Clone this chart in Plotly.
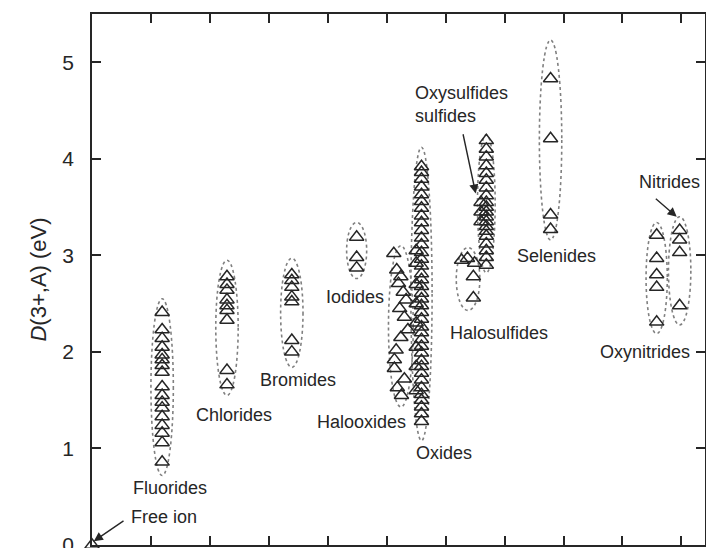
import plotly.graph_objects as go

# ---------------- data ----------------
free_ion_x = [0.0]
free_ion_y = [0.0]

fluorides_x = 1.19
fluorides_y = [2.41, 2.23, 2.14, 2.05, 1.97, 1.92, 1.86, 1.79, 1.64, 1.55, 1.48, 1.42,
               1.33, 1.24, 1.16, 1.06, 0.86]

chlorides_x = 2.29
chlorides_y = [2.78, 2.70, 2.64, 2.54, 2.48, 2.43, 2.33, 1.81, 1.66]

bromides_x = 3.39
bromides_y = [2.80, 2.74, 2.67, 2.57, 2.52, 2.12, 2.00]

iodides_x = 4.49
iodides_y = [3.19, 2.98, 2.87]

halooxides_x = [5.12, 5.17, 5.24, 5.2, 5.28, 5.33, 5.22, 5.3, 5.36, 5.24, 5.16,
                5.13, 5.13, 5.18, 5.25, 5.3]
halooxides_y = [3.02, 2.85, 2.78, 2.71, 2.62, 2.54, 2.45, 2.36, 2.23, 2.15, 2.02,
                1.92, 1.83, 1.63, 1.55, 1.72]

oxides_x = 5.59
oxides_y = [3.92, 3.86, 3.79, 3.71, 3.63, 3.56, 3.49, 3.41, 3.34, 3.26, 3.18, 3.11,
            3.03, 2.96, 2.89, 2.81, 2.75, 2.68, 2.61, 2.55, 2.48, 2.41, 2.34, 2.26,
            2.20, 2.13, 2.06, 1.99, 1.91, 1.85, 1.78, 1.71, 1.63, 1.56, 1.50, 1.43,
            1.36, 1.28]
oxides2_x = 5.5
oxides2_y = [3.05, 2.92, 2.7, 2.5, 2.3, 2.05, 1.85, 1.6]

halosulfides_x = [6.27, 6.37, 6.49, 6.47, 6.47]
halosulfides_y = [2.95, 2.97, 2.92, 2.78, 2.56]

oxysulfides_x = 6.69
oxysulfides_y = [4.19, 4.10, 4.02, 3.93, 3.85, 3.78, 3.70, 3.62, 3.55, 3.50, 3.45,
                 3.40, 3.35, 3.30, 3.25, 3.20, 3.12, 3.05, 2.98, 2.90]
oxysulfides2_x = 6.6
oxysulfides2_y = [3.55, 3.45, 3.35]

selenides_x = 7.78
selenides_y = [4.83, 4.21, 3.42, 3.27]

oxynitrides_x = 9.58
oxynitrides_y = [3.21, 2.97, 2.80, 2.67, 2.31]

nitrides_x = 9.97
nitrides_y = [3.26, 3.16, 3.03, 2.48]

labels = ["Fluorides", "Free ion", "Chlorides", "Bromides", "Iodides", "Halooxides",
          "Oxides", "Halosulfides", "Oxysulfides<br>sulfides", "Selenides",
          "Oxynitrides", "Nitrides"]

# ---------------- style ----------------
FONT = "Liberation Sans, Arial, Helvetica, sans-serif"
INK = "#262626"
marker = dict(symbol="triangle-up-open", size=12.5, color=INK, line=dict(width=1.5, color=INK))

fig = go.Figure()


def add_group(xs, ys, clip=True):
    if not isinstance(xs, list):
        xs = [xs] * len(ys)
    fig.add_trace(go.Scatter(x=xs, y=ys, mode="markers", marker=marker,
                             showlegend=False, cliponaxis=clip, hoverinfo="y"))


add_group(free_ion_x, free_ion_y, clip=False)
add_group(fluorides_x, fluorides_y)
add_group(chlorides_x, chlorides_y)
add_group(bromides_x, bromides_y)
add_group(iodides_x, iodides_y)
add_group(halooxides_x, halooxides_y)
add_group(oxides_x, oxides_y)
add_group(oxides2_x, oxides2_y)
add_group(halosulfides_x, halosulfides_y)
add_group(oxysulfides_x, oxysulfides_y)
add_group(oxysulfides2_x, oxysulfides2_y)
add_group(selenides_x, selenides_y)
add_group(oxynitrides_x, oxynitrides_y)
add_group(nitrides_x, nitrides_y)


# dotted ellipses around each group, derived from the group data
def ellipse(xs, ys, half_w=0.19, pad_lo=0.14, pad_hi=0.14):
    if not isinstance(xs, list):
        xs = [xs]
    xc = (min(xs) + max(xs)) / 2
    hw = half_w + (max(xs) - min(xs)) / 2
    fig.add_shape(type="circle", xref="x", yref="y",
                  x0=xc - hw, x1=xc + hw, y0=min(ys) - pad_lo, y1=max(ys) + pad_hi,
                  line=dict(color="#808080", width=1.6, dash="dot"), layer="below")


ellipse(fluorides_x, fluorides_y)
ellipse(chlorides_x, chlorides_y, pad_hi=0.17, pad_lo=0.11)
ellipse(bromides_x, bromides_y, pad_hi=0.17, pad_lo=0.16)
ellipse(iodides_x, iodides_y, half_w=0.17, pad_hi=0.15, pad_lo=0.11)
ellipse(halooxides_x, halooxides_y, half_w=0.09, pad_lo=0.12, pad_hi=0.08)
ellipse([oxides_x], oxides_y, half_w=0.18, pad_lo=0.2, pad_hi=0.2)
ellipse(halosulfides_x, halosulfides_y, half_w=0.09, pad_lo=0.13, pad_hi=0.11)
ellipse([oxysulfides_x], oxysulfides_y, half_w=0.15, pad_lo=0.08, pad_hi=0.06)
ellipse(selenides_x, selenides_y, pad_lo=0.11, pad_hi=0.4)
ellipse(oxynitrides_x, oxynitrides_y, half_w=0.18, pad_lo=0.12, pad_hi=0.13)
ellipse(nitrides_x, nitrides_y, pad_lo=0.2, pad_hi=0.14)

# text labels (positions in data coordinates)
label_pos = [
    (1.32, 0.59, "center"), (1.22, 0.29, "center"), (2.41, 1.35, "center"),
    (3.49, 1.71, "center"), (4.46, 2.57, "center"), (4.58, 1.27, "center"),
    (5.97, 0.95, "center"), (6.90, 2.20, "center"), (5.47, 4.56, "left"),
    (7.88, 2.99, "center"), (9.39, 2.00, "center"), (9.80, 3.76, "center"),
]
for text, (lx, ly, anchor) in zip(labels, label_pos):
    fig.add_annotation(x=lx, y=ly, text=text, showarrow=False, xanchor=anchor,
                       align="left", font=dict(family=FONT, size=18, color=INK),
                       bgcolor="rgba(255,255,255,0.85)", borderpad=0)

# arrows (tail -> head)
arrows = [((0.56, 0.26), (0.03, 0.04)), ((6.29, 4.27), (6.51, 3.64)), ((9.54, 3.60), (9.92, 3.40))]
for (tx, ty), (hx, hy) in arrows:
    fig.add_annotation(x=hx, y=hy, ax=tx, ay=ty, xref="x", yref="y", axref="x", ayref="y",
                       text="", showarrow=True, arrowhead=2, arrowsize=1.3, arrowwidth=1.4,
                       arrowcolor=INK)

axis_common = dict(showline=True, linecolor=INK, linewidth=1.6, mirror="ticks",
                   ticks="inside", ticklen=9, tickwidth=1.5, tickcolor=INK,
                   showgrid=False, zeroline=False, automargin=False)

fig.update_layout(
    width=706, height=548,
    margin=dict(l=92, r=1, t=14, b=3),
    paper_bgcolor="white", plot_bgcolor="white",
    font=dict(family=FONT, color=INK),
    xaxis=dict(range=[0, 10.4], dtick=1, tick0=0, showticklabels=False, **axis_common),
    yaxis=dict(range=[0, 5.5], dtick=1, tick0=0, tickfont=dict(size=21, family=FONT, color=INK),
               ticklabelstandoff=12, ticklabeloverflow="allow",
               title=dict(text="<i>D</i>(3+,A) (eV)", font=dict(size=22, family=FONT, color=INK),
                          standoff=10),
               **axis_common),
)

fig.write_html("out.html")
